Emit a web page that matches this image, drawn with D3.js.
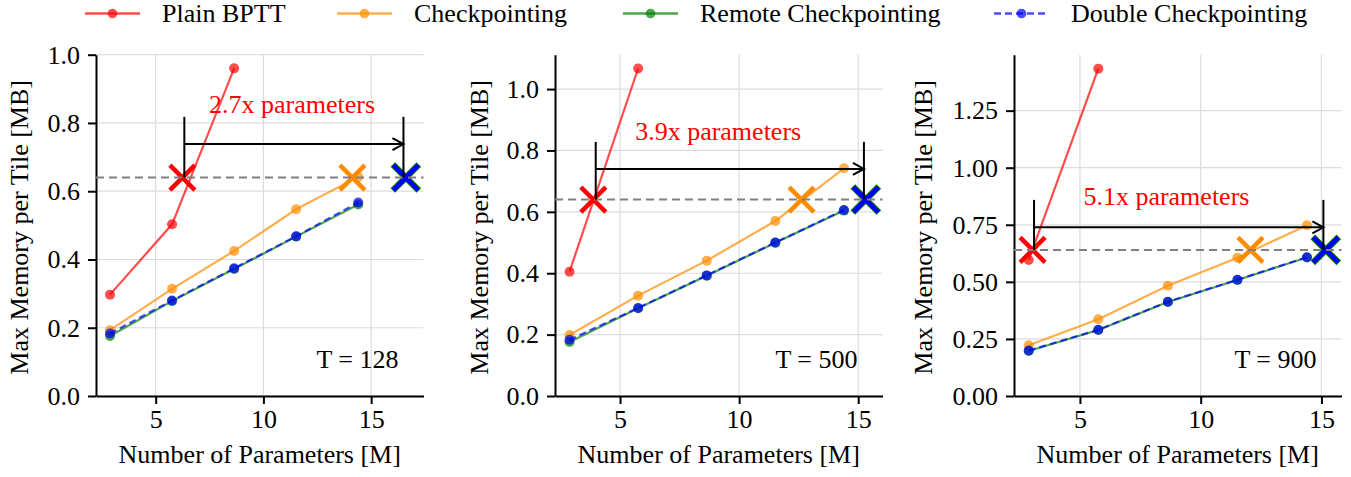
<!DOCTYPE html>
<html><head><meta charset="utf-8">
<script src="https://cdn.jsdelivr.net/npm/d3@7"></script>
<style>
html,body{margin:0;padding:0;background:#fff;}
svg{display:block;font-family:"Liberation Serif","Times New Roman",serif;}
</style></head>
<body>
<svg id="chart" width="1351" height="477"></svg>
<script>
// ---------- data ----------
const paramsM = [2.88, 5.76, 8.64, 11.52, 14.40];
const tLabels = ["T = 128", "T = 500", "T = 900"];
const plainBPTT = [[0.297, 0.503, 0.960], [0.405, 1.067], [0.596, 1.434]];
const checkpointing = [[0.193, 0.314, 0.425, 0.547, 0.642], [0.199, 0.327, 0.441, 0.570, 0.742], [0.222, 0.336, 0.483, 0.606, 0.748]];
const remoteCkpt = [[0.176, 0.278, 0.372, 0.467, 0.561], [0.176, 0.286, 0.392, 0.499, 0.604], [0.197, 0.289, 0.412, 0.508, 0.607]];
const doubleCkpt = [[0.183, 0.280, 0.374, 0.468, 0.567], [0.183, 0.287, 0.393, 0.500, 0.606], [0.199, 0.290, 0.413, 0.509, 0.608]];
const memLimit = 0.64;
const limitBPTT = [6.24, 3.88, 3.04];
const limitCkpt = [14.13, 12.62, 12.06];
const limitRemote = [16.61, 15.32, 15.18];
const limitDouble = [16.61, 15.32, 15.18];
const arrowLabels = ["2.7x parameters", "3.9x parameters", "5.1x parameters"];
const arrowFrom = [6.33, 3.98, 3.10];
const arrowTo = [16.50, 15.24, 15.08];
const arrowY = [0.738, 0.740, 0.739];
const arrowTop = [0.818, 0.828, 0.859];
const arrowLabelX = [11.33, 9.12, 8.58];
const arrowLabelY = [0.830, 0.834, 0.837];
const xDomains = [[2.23, 17.43], [2.27, 16.02], [2.27, 15.83]];
const yMax = [1.0, 1.112, 1.495];
const xTicks = [5, 10, 15];
const yTicks = [[0, 0.2, 0.4, 0.6, 0.8, 1.0], [0, 0.2, 0.4, 0.6, 0.8, 1.0], [0, 0.25, 0.5, 0.75, 1.0, 1.25]];
const yTickFormats = [".1f", ".1f", ".2f"];
const legendLabels = ["Plain BPTT", "Checkpointing", "Remote Checkpointing", "Double Checkpointing"];
const seriesColors = ["#ff0000", "#ff8c00", "#008000", "#0000ff"];

// ---------- layout ----------
const panelLeft = [96, 555, 1014];
const panelW = 327.5, plotTop = 54.7, plotBottom = 396;
const legendX = [85, 337, 623, 994];
const FS = 26;

const svg = d3.select("#chart");

// legend
const lg = svg.append("g");
legendLabels.forEach((lab, i) => {
  const x0 = legendX[i], y0 = 13.5;
  lg.append("line").attr("x1", x0).attr("x2", x0 + 55).attr("y1", y0).attr("y2", y0)
    .attr("stroke", seriesColors[i]).attr("stroke-opacity", 0.7).attr("stroke-width", 2.5)
    .attr("stroke-dasharray", i === 3 ? "7,4" : null);
  lg.append("circle").attr("cx", x0 + 27.5).attr("cy", y0).attr("r", 4.8)
    .attr("fill", seriesColors[i]).attr("fill-opacity", 0.7);
  lg.append("text").attr("x", x0 + 77).attr("y", 22).attr("font-size", FS).attr("fill", "#000").text(lab);
});

function xMark(g, cx, cy, color, sw, half) {
  g.append("path").attr("d", `M${cx-half},${cy-half}L${cx+half},${cy+half}M${cx-half},${cy+half}L${cx+half},${cy-half}`)
    .attr("stroke", color).attr("stroke-width", sw).attr("fill", "none");
}

for (let p = 0; p < 3; p++) {
  const L = panelLeft[p];
  const x = d3.scaleLinear().domain(xDomains[p]).range([L, L + panelW]);
  const y = d3.scaleLinear().domain([0, yMax[p]]).range([plotBottom, plotTop]);
  const g = svg.append("g");

  // grid
  g.append("g").selectAll("line").data(xTicks).join("line")
    .attr("x1", d => x(d)).attr("x2", d => x(d)).attr("y1", plotTop).attr("y2", plotBottom)
    .attr("stroke", "#dcdcdc").attr("stroke-width", 1.2);
  g.append("g").selectAll("line").data(yTicks[p]).join("line")
    .attr("x1", L).attr("x2", L + panelW).attr("y1", d => y(d)).attr("y2", d => y(d))
    .attr("stroke", "#dcdcdc").attr("stroke-width", 1.2);

  // axes
  const xa = g.append("g").attr("transform", `translate(0,${plotBottom})`)
    .call(d3.axisBottom(x).tickValues(xTicks).tickFormat(d3.format("d")).tickSize(8).tickPadding(6).tickSizeOuter(0));
  const ya = g.append("g").attr("transform", `translate(${L},0)`)
    .call(d3.axisLeft(y).tickValues(yTicks[p]).tickFormat(d3.format(yTickFormats[p])).tickSize(8).tickPadding(8).tickSizeOuter(0));
  [xa, ya].forEach(a => {
    a.attr("font-family", "Liberation Serif");
    a.select(".domain").attr("stroke", "#000").attr("stroke-width", 2);
    a.selectAll(".tick line").attr("stroke", "#000").attr("stroke-width", 2);
    a.selectAll(".tick text").attr("font-size", FS).attr("fill", "#000");
  });

  // axis labels
  g.append("text").attr("x", L + panelW / 2).attr("y", 463).attr("text-anchor", "middle")
    .attr("font-size", FS).text("Number of Parameters [M]");
  const ylx = [19, 479, 923][p];
  g.append("text").attr("transform", `translate(${ylx},${(plotTop + plotBottom) / 2 + 2}) rotate(-90)`)
    .attr("text-anchor", "middle").attr("dominant-baseline", "central")
    .attr("font-size", FS).text("Max Memory per Tile [MB]");

  // series
  const series = [
    {vals: plainBPTT[p], c: 0, dash: null},
    {vals: checkpointing[p], c: 1, dash: null},
    {vals: remoteCkpt[p], c: 2, dash: null},
    {vals: doubleCkpt[p], c: 3, dash: "7,4"}
  ];
  const line = d3.line().x(d => x(d[0])).y(d => y(d[1]));
  series.forEach(s => {
    const pts = s.vals.map((v, i) => [paramsM[i], v]);
    g.append("path").datum(pts).attr("d", line).attr("fill", "none")
      .attr("stroke", seriesColors[s.c]).attr("stroke-opacity", 0.7).attr("stroke-width", 2.2)
      .attr("stroke-dasharray", s.dash);
    g.append("g").selectAll("circle").data(pts).join("circle")
      .attr("cx", d => x(d[0])).attr("cy", d => y(d[1])).attr("r", 5)
      .attr("fill", seriesColors[s.c]).attr("fill-opacity", 0.7);
  });

  // limit X markers
  xMark(g, x(limitBPTT[p]), y(memLimit), seriesColors[0], 4.5, 12.5);
  xMark(g, x(limitCkpt[p]), y(memLimit), seriesColors[1], 4.5, 12.5);
  xMark(g, x(limitRemote[p]), y(memLimit), seriesColors[2], 6.5, 13);
  xMark(g, x(limitDouble[p]), y(memLimit), seriesColors[3], 4.5, 12.5);

  // memory limit dashed line
  g.append("line").attr("x1", L).attr("x2", L + panelW).attr("y1", y(memLimit)).attr("y2", y(memLimit))
    .attr("stroke", "#808080").attr("stroke-width", 2).attr("stroke-dasharray", "8,5");

  // arrow annotation
  [arrowFrom[p], arrowTo[p]].forEach(v => {
    g.append("line").attr("x1", x(v)).attr("x2", x(v)).attr("y1", y(arrowTop[p])).attr("y2", y(memLimit))
      .attr("stroke", "#000").attr("stroke-width", 2);
  });
  const ax1 = x(arrowFrom[p]), ax2 = x(arrowTo[p]), ay = y(arrowY[p]);
  g.append("line").attr("x1", ax1).attr("x2", ax2).attr("y1", ay).attr("y2", ay)
    .attr("stroke", "#000").attr("stroke-width", 2);
  g.append("path").attr("d", `M${ax2-11},${ay-6}L${ax2},${ay}L${ax2-11},${ay+6}`)
    .attr("fill", "none").attr("stroke", "#000").attr("stroke-width", 2);
  g.append("text").attr("x", x(arrowLabelX[p])).attr("y", y(arrowLabelY[p])).attr("text-anchor", "middle")
    .attr("font-size", FS).attr("fill", "#ff0000").text(arrowLabels[p]);

  // T label
  g.append("text").attr("x", L + panelW - 25).attr("y", 368).attr("text-anchor", "end")
    .attr("font-size", FS).attr("fill", "#000").text(tLabels[p]);
}
</script>
</body></html>
